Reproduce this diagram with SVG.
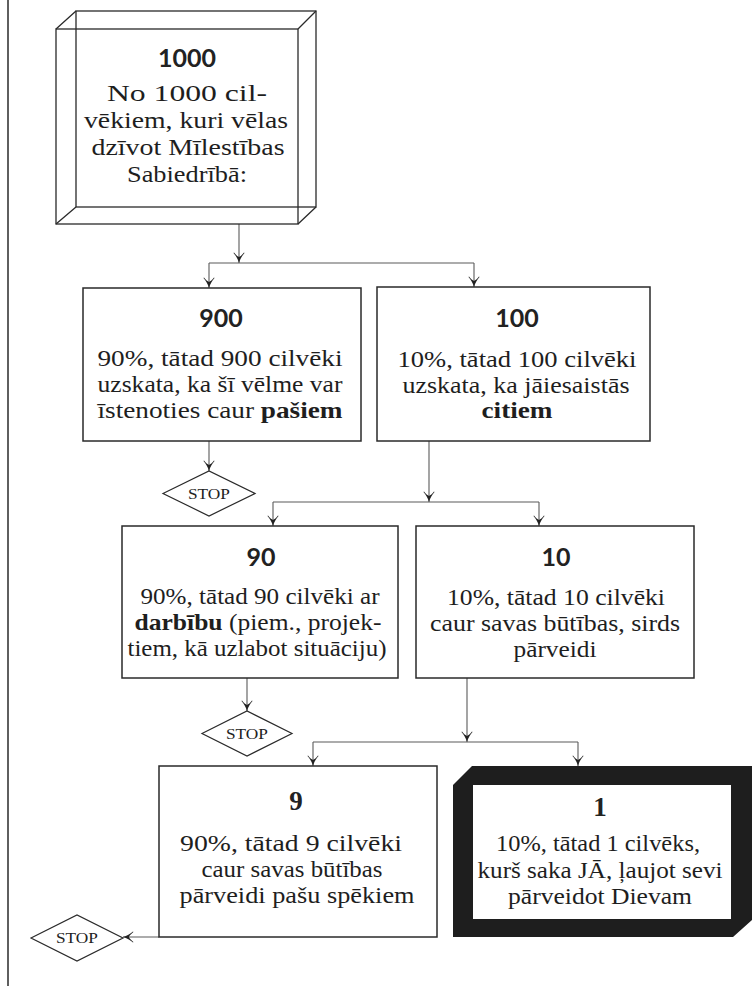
<svg xmlns="http://www.w3.org/2000/svg" width="756" height="991" viewBox="0 0 756 991">
<style>
.box{fill:#fff;stroke:#2a2a2a;stroke-width:1.5}
.wire{fill:none;stroke:#2a2a2a;stroke-width:1.3;stroke-linejoin:miter}
.con{fill:none;stroke:#5a5a5a;stroke-width:1.1}
.dia{fill:#fff;stroke:#2a2a2a;stroke-width:1.2}
.t{font-family:"Liberation Serif","Times New Roman",serif;font-size:24px;fill:#1e1e1e;text-anchor:middle}
.n{font-family:Lato,"Open Sans",sans-serif;font-weight:700;font-size:25px;fill:#222;text-anchor:middle}
.nb{font-family:"Liberation Serif","Times New Roman",serif;font-weight:700;font-size:27px;fill:#222;text-anchor:middle}
.stop{font-family:"Liberation Serif","Times New Roman",serif;font-size:15px;fill:#222;text-anchor:middle}
.b{font-weight:700}
</style>
<defs>
<marker id="arr" viewBox="-11 -6 12 12" refX="0" refY="0" markerWidth="12" markerHeight="12" markerUnits="userSpaceOnUse" orient="auto">
<path d="M0,0 C-4,-1 -7,-3 -10,-5.5 L-10.4,-5 C-8,-3 -6.5,-1.5 -6,0 C-6.5,1.5 -8,3 -10.4,5 L-10,5.5 C-7,3 -4,1 0,0 Z" fill="#222"/>
</marker>
</defs>
<rect x="0" y="0" width="756" height="991" fill="#fff"/>
<line x1="8" y1="0" x2="8" y2="986" stroke="#2a2a2a" stroke-width="1.5"/>

<g id="connectors">
<line class="con" x1="239" y1="224" x2="239" y2="263" marker-end="url(#arr)"/>
<line class="con" x1="209" y1="263" x2="474" y2="263"/>
<line class="con" x1="209" y1="263" x2="209" y2="288" marker-end="url(#arr)"/>
<line class="con" x1="474" y1="263" x2="474" y2="287" marker-end="url(#arr)"/>
<line class="con" x1="209" y1="441" x2="209" y2="471" marker-end="url(#arr)"/>
<line class="con" x1="429" y1="441" x2="429" y2="502" marker-end="url(#arr)"/>
<line class="con" x1="273" y1="502" x2="539" y2="502"/>
<line class="con" x1="273" y1="502" x2="273" y2="526" marker-end="url(#arr)"/>
<line class="con" x1="539" y1="502" x2="539" y2="526" marker-end="url(#arr)"/>
<line class="con" x1="247" y1="678" x2="247" y2="711" marker-end="url(#arr)"/>
<line class="con" x1="467" y1="678" x2="467" y2="742" marker-end="url(#arr)"/>
<line class="con" x1="313" y1="742" x2="578" y2="742"/>
<line class="con" x1="313" y1="742" x2="313" y2="766" marker-end="url(#arr)"/>
<line class="con" x1="578" y1="742" x2="578" y2="766" marker-end="url(#arr)"/>
<line class="con" x1="159" y1="937" x2="123" y2="937" marker-end="url(#arr)"/>
</g>

<g id="n1000">
<rect class="wire" x="76" y="11" width="240" height="196"/>
<rect class="wire" x="56" y="29" width="242" height="195"/>
<path class="wire" d="M56,29 L76,11 M298,29 L316,11 M298,224 L316,207 M56,224 L76,207"/>
<text class="n" x="187" y="67">1000</text>
<text class="t" x="187" y="101" textLength="160" lengthAdjust="spacingAndGlyphs">No 1000 cil-</text>
<text class="t" x="186" y="128" textLength="204" lengthAdjust="spacingAndGlyphs">vēkiem, kuri vēlas</text>
<text class="t" x="188" y="155" textLength="193" lengthAdjust="spacingAndGlyphs">dzīvot Mīlestības</text>
<text class="t" x="187" y="182" textLength="120" lengthAdjust="spacingAndGlyphs">Sabiedrībā:</text>
</g>

<g id="n900">
<rect class="box" x="83" y="288" width="278" height="153"/>
<text class="n" x="221" y="327">900</text>
<text class="t" x="220" y="366" textLength="245" lengthAdjust="spacingAndGlyphs">90%, tātad 900 cilvēki</text>
<text class="t" x="220" y="392" textLength="245" lengthAdjust="spacingAndGlyphs">uzskata, ka šī vēlme var</text>
<text class="t" x="220" y="418" textLength="245" lengthAdjust="spacingAndGlyphs">īstenoties caur <tspan class="b">pašiem</tspan></text>
</g>

<g id="n100">
<rect class="box" x="377" y="287" width="273" height="154"/>
<text class="n" x="517" y="327">100</text>
<text class="t" x="517" y="367" textLength="239" lengthAdjust="spacingAndGlyphs">10%, tātad 100 cilvēki</text>
<text class="t" x="516" y="393" textLength="227" lengthAdjust="spacingAndGlyphs">uzskata, ka jāiesaistās</text>
<text class="t b" x="517" y="418" textLength="71" lengthAdjust="spacingAndGlyphs">citiem</text>
</g>

<g id="stop1">
<polygon class="dia" points="163,493.5 209,471 255,493.5 209,516"/>
<text class="stop" x="209" y="499" textLength="42" lengthAdjust="spacingAndGlyphs">STOP</text>
</g>

<g id="n90">
<rect class="box" x="122" y="526" width="276" height="152"/>
<text class="n" x="261" y="566">90</text>
<text class="t" x="260" y="604" textLength="239" lengthAdjust="spacingAndGlyphs">90%, tātad 90 cilvēki ar</text>
<text class="t" x="258" y="630" textLength="247" lengthAdjust="spacingAndGlyphs"><tspan class="b">darbību</tspan> (piem., projek-</text>
<text class="t" x="257" y="656" textLength="259" lengthAdjust="spacingAndGlyphs">tiem, kā uzlabot situāciju)</text>
</g>

<g id="n10">
<rect class="box" x="416" y="526" width="278" height="152"/>
<text class="n" x="556" y="566">10</text>
<text class="t" x="556" y="605" textLength="218" lengthAdjust="spacingAndGlyphs">10%, tātad 10 cilvēki</text>
<text class="t" x="555" y="631" textLength="250" lengthAdjust="spacingAndGlyphs">caur savas būtības, sirds</text>
<text class="t" x="555" y="657" textLength="83" lengthAdjust="spacingAndGlyphs">pārveidi</text>
</g>

<g id="stop2">
<polygon class="dia" points="202,733.5 247,711 292,733.5 247,756"/>
<text class="stop" x="247" y="739" textLength="42" lengthAdjust="spacingAndGlyphs">STOP</text>
</g>

<g id="n9">
<rect class="box" x="159" y="766" width="278" height="171"/>
<text class="nb" x="296" y="810">9</text>
<text class="t" x="291" y="851" textLength="222" lengthAdjust="spacingAndGlyphs">90%, tātad 9 cilvēki</text>
<text class="t" x="292" y="877" textLength="181" lengthAdjust="spacingAndGlyphs">caur savas būtības</text>
<text class="t" x="297" y="903" textLength="235" lengthAdjust="spacingAndGlyphs">pārveidi pašu spēkiem</text>
</g>

<g id="n1">
<path d="M472,766 L752,766 L752,920 L733,937 L453,937 L453,785 Z M473,785 L473,919 L731,919 L731,785 Z" fill="#1e1e1e" fill-rule="evenodd"/>
<text class="nb" x="600" y="816">1</text>
<text class="t" x="598" y="851" textLength="204" lengthAdjust="spacingAndGlyphs">10%, tātad 1 cilvēks,</text>
<text class="t" x="600" y="878" textLength="245" lengthAdjust="spacingAndGlyphs">kurš saka JĀ, ļaujot sevi</text>
<text class="t" x="600" y="904" textLength="184" lengthAdjust="spacingAndGlyphs">pārveidot Dievam</text>
</g>

<g id="stop3">
<polygon class="dia" points="31,938 77,915 123,938 77,961"/>
<text class="stop" x="77" y="943" textLength="42" lengthAdjust="spacingAndGlyphs">STOP</text>
</g>
</svg>
